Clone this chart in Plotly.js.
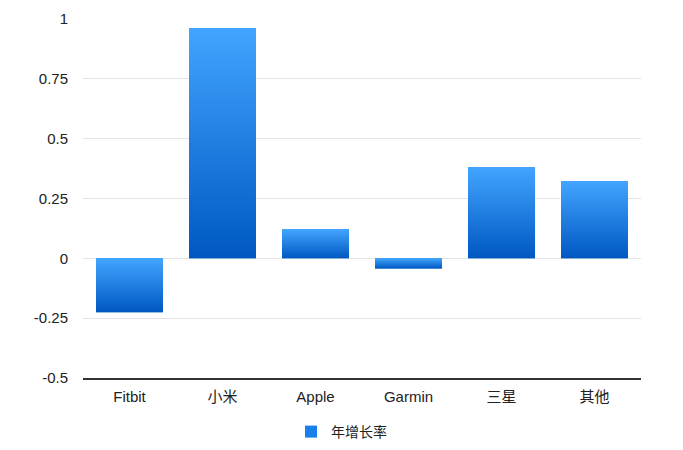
<!DOCTYPE html>
<html>
<head>
<meta charset="utf-8">
<script src="https://cdn.plot.ly/plotly-3.0.1.min.js"></script>
<style>
  html, body { margin: 0; padding: 0; background: #fff; }
  #chart { width: 683px; height: 450px; }
</style>
</head>
<body>
<div id="chart"></div>
<script>
// brands and their yearly growth rate
const brands = ["Fitbit", "小米", "Apple", "Garmin", "三星", "其他"];
const growth = [-0.225, 0.962, 0.121, -0.042, 0.381, 0.322];
const seriesName = "年增长率";
const yTicks = [-0.5, -0.25, 0, 0.25, 0.5, 0.75, 1];
const yTickText = ["-0.5", "-0.25", "0", "0.25", "0.5", "0.75", "1"];

const barWidth = 0.72;
const FONT = "'Liberation Sans', Arial, 'Noto Sans CJK SC', sans-serif";
const xPos = brands.map((b, i) => i);

// plain bar trace: carries the legend entry and hover
const baseBars = {
  type: "bar",
  x: xPos,
  y: growth,
  width: barWidth,
  name: seriesName,
  marker: { color: "#1a7fe8", line: { width: 0 } },
  text: brands,
  hovertemplate: "%{text}: %{y}<extra></extra>",
  textposition: "none"
};

// gradient overlay: each bar redrawn as a filled rectangle with its own vertical gradient
const gradientBars = brands.map((b, i) => {
  const h = barWidth / 2;
  return {
    type: "scatter",
    mode: "none",
    x: [i - h, i - h, i + h, i + h, i - h],
    y: [0, growth[i], growth[i], 0, 0],
    fill: "toself",
    fillgradient: {
      type: "vertical",
      colorscale: [[0, "#0057c2"], [1, "#42a5ff"]]
    },
    showlegend: false,
    hoverinfo: "skip"
  };
});

const layout = {
  width: 683,
  height: 450,
  paper_bgcolor: "#fff",
  plot_bgcolor: "#fff",
  margin: { l: 83, r: 42, t: 19, b: 72 },
  font: { family: FONT, size: 15, color: "#222" },
  showlegend: true,
  legend: {
    orientation: "h",
    xref: "container",
    yref: "container",
    x: 0.5,
    xanchor: "center",
    y: 0.04,
    yanchor: "middle",
    font: { family: FONT, size: 14, color: "#222" }
  },
  xaxis: {
    range: [-0.5, 5.5],
    tickvals: xPos,
    ticktext: brands,
    showgrid: false,
    zeroline: false,
    showline: true,
    linecolor: "#333",
    linewidth: 2,
    ticks: "",
    ticklabelstandoff: 4,
    fixedrange: true
  },
  yaxis: {
    range: [-0.5, 1],
    tickvals: yTicks,
    ticktext: yTickText,
    showgrid: true,
    gridcolor: "#e3e3e3",
    gridwidth: 1,
    zeroline: false,
    showline: false,
    ticks: "",
    ticklabelstandoff: 14,
    fixedrange: true
  }
};

Plotly.newPlot("chart", [baseBars, ...gradientBars], layout, { displayModeBar: false });
</script>
</body>
</html>
